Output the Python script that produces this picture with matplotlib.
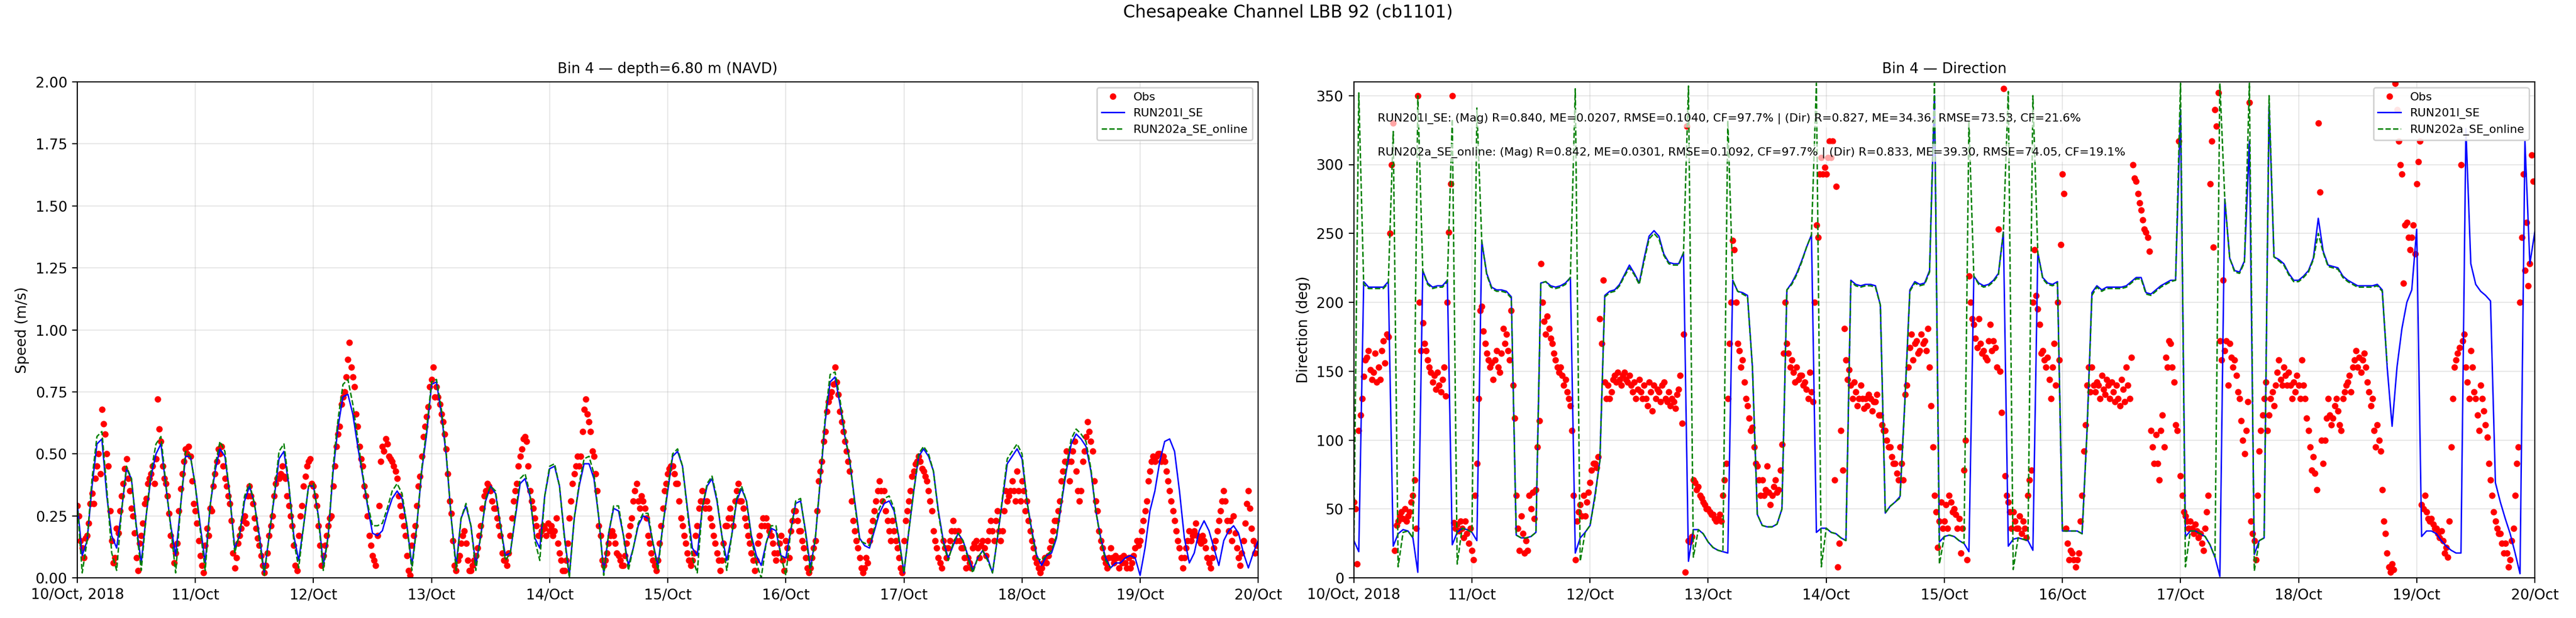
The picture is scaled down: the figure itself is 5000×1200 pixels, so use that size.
import numpy as np
import pandas as pd
import matplotlib
matplotlib.use('Agg')
import matplotlib.pyplot as plt

start = '2018-10-10 00:00'

# observed speed, every 20 min (m/s)
speed_obs = [
    0.29, 0.25, 0.15, 0.12, 0.08, 0.16, 0.17, 0.22, 0.30, 0.34, 0.30, 0.40,
    0.45, 0.50, 0.42, 0.68, 0.62, 0.58, 0.50, 0.45, 0.27, 0.15, 0.06, 0.08,
    0.20, 0.18, 0.27, 0.33, 0.38, 0.44, 0.48, 0.40, 0.35, 0.28, 0.25, 0.18,
    0.08, 0.03, 0.14, 0.17, 0.22, 0.30, 0.32, 0.38, 0.40, 0.42, 0.45, 0.38,
    0.48, 0.72, 0.60, 0.55, 0.45, 0.40, 0.38, 0.33, 0.26, 0.17, 0.13, 0.06,
    0.10, 0.14, 0.27, 0.36, 0.42, 0.47, 0.52, 0.50, 0.53, 0.49, 0.39, 0.30,
    0.27, 0.22, 0.15, 0.09, 0.05, 0.02, 0.13, 0.20, 0.17, 0.28, 0.27, 0.37,
    0.42, 0.47, 0.52, 0.50, 0.53, 0.45, 0.40, 0.37, 0.33, 0.30, 0.23, 0.10,
    0.04, 0.08, 0.14, 0.17, 0.20, 0.23, 0.25, 0.22, 0.33, 0.37, 0.33, 0.30,
    0.24, 0.20, 0.16, 0.13, 0.09, 0.05, 0.02, 0.05, 0.10, 0.17, 0.21, 0.25,
    0.33, 0.38, 0.40, 0.40, 0.42, 0.45, 0.41, 0.40, 0.33, 0.29, 0.25, 0.21,
    0.13, 0.05, 0.03, 0.17, 0.25, 0.29, 0.37, 0.41, 0.45, 0.47, 0.48, 0.38,
    0.37, 0.33, 0.29, 0.21, 0.13, 0.05, 0.09, 0.13, 0.17, 0.21, 0.24, 0.25,
    0.37, 0.45, 0.53, 0.58, 0.61, 0.70, 0.73, 0.75, 0.81, 0.88, 0.95, 0.85,
    0.81, 0.77, 0.66, 0.61, 0.53, 0.48, 0.45, 0.37, 0.33, 0.25, 0.17, 0.13,
    0.09, 0.07, 0.05, 0.17, 0.29, 0.47, 0.53, 0.51, 0.56, 0.54, 0.49, 0.48,
    0.47, 0.45, 0.43, 0.40, 0.33, 0.29, 0.25, 0.21, 0.17, 0.09, 0.03, 0.01,
    0.13, 0.17, 0.21, 0.29, 0.37, 0.41, 0.49, 0.57, 0.61, 0.65, 0.69, 0.77,
    0.80, 0.85, 0.73, 0.77, 0.73, 0.70, 0.66, 0.63, 0.58, 0.52, 0.42, 0.31,
    0.26, 0.15, 0.05, 0.03, 0.07, 0.09, 0.14, 0.17, 0.19, 0.14, 0.07, 0.03,
    0.03, 0.05, 0.07, 0.09, 0.12, 0.17, 0.21, 0.28, 0.33, 0.35, 0.38, 0.37,
    0.35, 0.31, 0.28, 0.28, 0.24, 0.21, 0.17, 0.10, 0.07, 0.07, 0.05, 0.10,
    0.17, 0.24, 0.31, 0.35, 0.38, 0.45, 0.49, 0.52, 0.56, 0.57, 0.55, 0.45,
    0.35, 0.31, 0.28, 0.24, 0.21, 0.17, 0.17, 0.19, 0.21, 0.20, 0.17, 0.22,
    0.19, 0.21, 0.17, 0.19, 0.24, 0.14, 0.10, 0.07, 0.03, 0.03, 0.07, 0.14,
    0.24, 0.31, 0.38, 0.42, 0.45, 0.49, 0.45, 0.49, 0.59, 0.68, 0.72, 0.66,
    0.63, 0.59, 0.51, 0.49, 0.42, 0.35, 0.21, 0.17, 0.07, 0.05, 0.07, 0.10,
    0.14, 0.17, 0.19, 0.17, 0.14, 0.10, 0.09, 0.07, 0.05, 0.05, 0.09, 0.14,
    0.17, 0.21, 0.24, 0.31, 0.35, 0.38, 0.31, 0.28, 0.33, 0.31, 0.28, 0.24,
    0.17, 0.14, 0.10, 0.07, 0.05, 0.03, 0.07, 0.14, 0.21, 0.28, 0.35, 0.38,
    0.42, 0.44, 0.45, 0.45, 0.42, 0.38, 0.38, 0.31, 0.24, 0.21, 0.17, 0.14,
    0.10, 0.07, 0.05, 0.07, 0.10, 0.17, 0.21, 0.28, 0.31, 0.35, 0.31, 0.28,
    0.31, 0.28, 0.24, 0.21, 0.17, 0.14, 0.10, 0.07, 0.03, 0.07, 0.14, 0.21,
    0.21, 0.24, 0.28, 0.24, 0.21, 0.31, 0.35, 0.38, 0.31, 0.31, 0.28, 0.24,
    0.21, 0.17, 0.14, 0.10, 0.07, 0.03, 0.07, 0.14, 0.17, 0.21, 0.24, 0.21,
    0.24, 0.21, 0.19, 0.17, 0.14, 0.10, 0.07, 0.10, 0.14, 0.17, 0.07, 0.03,
    0.15, 0.12, 0.08, 0.19, 0.23, 0.27, 0.27, 0.23, 0.19, 0.19, 0.15, 0.12,
    0.08, 0.04, 0.02, 0.04, 0.08, 0.12, 0.15, 0.27, 0.39, 0.43, 0.47, 0.55,
    0.59, 0.67, 0.71, 0.73, 0.75, 0.78, 0.85, 0.79, 0.74, 0.67, 0.63, 0.59,
    0.55, 0.51, 0.47, 0.43, 0.31, 0.23, 0.19, 0.15, 0.12, 0.08, 0.04, 0.02,
    0.04, 0.08, 0.06, 0.15, 0.19, 0.23, 0.27, 0.31, 0.35, 0.39, 0.35, 0.31,
    0.35, 0.27, 0.23, 0.19, 0.15, 0.23, 0.19, 0.15, 0.12, 0.08, 0.04, 0.02,
    0.15, 0.23, 0.27, 0.31, 0.35, 0.41, 0.43, 0.46, 0.47, 0.49, 0.47, 0.44,
    0.43, 0.41, 0.39, 0.35, 0.31, 0.27, 0.19, 0.15, 0.12, 0.08, 0.06, 0.04,
    0.15, 0.12, 0.08, 0.12, 0.15, 0.19, 0.23, 0.19, 0.15, 0.19, 0.15, 0.12,
    0.12, 0.08, 0.04, 0.08, 0.06, 0.04, 0.12, 0.14, 0.15, 0.12, 0.08, 0.13,
    0.15, 0.12, 0.09, 0.15, 0.19, 0.23, 0.19, 0.15, 0.23, 0.27, 0.19, 0.15,
    0.19, 0.27, 0.35, 0.31, 0.33, 0.35, 0.39, 0.35, 0.31, 0.43, 0.35, 0.31,
    0.39, 0.35, 0.27, 0.31, 0.23, 0.19, 0.15, 0.12, 0.08, 0.06, 0.04, 0.02,
    0.04, 0.06, 0.08, 0.06, 0.09, 0.12, 0.15, 0.19, 0.23, 0.23, 0.27, 0.31,
    0.39, 0.43, 0.47, 0.51, 0.47, 0.39, 0.47, 0.51, 0.55, 0.43, 0.35, 0.31,
    0.35, 0.47, 0.51, 0.57, 0.63, 0.59, 0.55, 0.51, 0.39, 0.31, 0.27, 0.19,
    0.15, 0.12, 0.08, 0.06, 0.04, 0.08, 0.12, 0.08, 0.06, 0.09, 0.08, 0.04,
    0.08, 0.06, 0.09, 0.06, 0.04, 0.08, 0.04, 0.06, 0.09, 0.12, 0.15, 0.13,
    0.15, 0.19, 0.23, 0.27, 0.31, 0.39, 0.43, 0.47, 0.49, 0.47, 0.49, 0.50,
    0.50, 0.47, 0.49, 0.47, 0.43, 0.39, 0.35, 0.31, 0.27, 0.23, 0.19, 0.15,
    0.12, 0.08, 0.04, 0.08, 0.12, 0.15, 0.19, 0.15, 0.17, 0.19, 0.22, 0.17,
    0.15, 0.14, 0.17, 0.15, 0.12, 0.08, 0.06, 0.04, 0.08, 0.12, 0.15, 0.19,
    0.23, 0.27, 0.31, 0.35, 0.31, 0.23, 0.19, 0.23, 0.15, 0.25, 0.18, 0.12,
    0.08, 0.05, 0.10, 0.15, 0.22, 0.30, 0.35, 0.28, 0.20, 0.15, 0.10, 0.13,
]

# observed direction, every 20 min (deg)
dir_obs = [
    55, 50, 10, 107, 118, 130, 146, 158, 160, 165, 151, 144,
    149, 163, 142, 153, 144, 165, 172, 156, 177, 175, 250, 300,
    330, 20, 38, 41, 45, 48, 43, 50, 41, 45, 48, 55,
    60, 71, 36, 350, 200, 165, 185, 170, 165, 158, 153, 149,
    142, 147, 137, 149, 140, 135, 144, 153, 132, 200, 251, 286,
    350, 40, 36, 39, 34, 41, 36, 29, 41, 32, 25, 36,
    20, 13, 60, 83, 130, 194, 197, 179, 170, 163, 158, 153,
    156, 144, 158, 165, 153, 149, 163, 181, 170, 177, 165, 158,
    194, 140, 116, 60, 36, 20, 45, 32, 18, 27, 20, 60,
    50, 62, 43, 64, 95, 114, 228, 200, 186, 177, 190, 181,
    174, 170, 163, 158, 153, 149, 153, 147, 140, 144, 135, 130,
    125, 107, 60, 13, 41, 48, 53, 45, 60, 45, 55, 62,
    69, 78, 83, 83, 80, 88, 188, 170, 216, 142, 130, 140,
    130, 135, 144, 147, 142, 149, 144, 140, 147, 149, 144, 142,
    147, 140, 135, 142, 130, 137, 144, 135, 130, 140, 130, 125,
    142, 135, 121, 140, 130, 137, 135, 128, 140, 142, 130, 128,
    135, 125, 130, 128, 123, 133, 137, 147, 112, 177, 4, 328,
    27, 26, 30, 71, 69, 64, 66, 60, 58, 55, 53, 50,
    50, 48, 46, 46, 43, 41, 43, 46, 41, 60, 71, 83,
    130, 170, 200, 245, 238, 200, 170, 165, 153, 158, 142, 130,
    125, 116, 107, 109, 95, 83, 81, 71, 60, 71, 60, 64,
    81, 62, 53, 60, 66, 71, 62, 64, 78, 97, 163, 200,
    170, 163, 153, 158, 149, 142, 153, 144, 147, 147, 140, 142,
    137, 130, 149, 135, 128, 200, 256, 247, 293, 305, 293, 298,
    293, 305, 317, 305, 317, 71, 284, 8, 25, 107, 78, 181,
    158, 144, 151, 140, 130, 142, 135, 125, 130, 140, 130, 123,
    130, 125, 133, 130, 121, 128, 128, 133, 118, 118, 111, 107,
    107, 100, 95, 95, 88, 83, 83, 76, 71, 95, 83, 71,
    133, 140, 153, 167, 177, 158, 170, 172, 163, 165, 177, 170,
    172, 165, 181, 153, 125, 95, 60, 48, 22, 41, 55, 36,
    41, 53, 36, 60, 55, 48, 50, 46, 36, 43, 18, 36,
    78, 100, 13, 219, 200, 188, 184, 174, 167, 188, 170, 163,
    165, 160, 158, 172, 184, 165, 172, 167, 153, 253, 150, 120,
    355, 74, 60, 55, 48, 36, 48, 41, 36, 36, 45, 32,
    41, 36, 29, 60, 71, 78, 200, 238, 205, 195, 184, 163,
    165, 158, 153, 160, 144, 130, 153, 170, 140, 200, 158, 242,
    293, 279, 36, 25, 13, 20, 18, 13, 8, 13, 18, 41,
    60, 92, 111, 140, 153, 135, 153, 140, 135, 142, 140, 130,
    147, 137, 133, 144, 140, 130, 142, 135, 128, 140, 130, 125,
    144, 137, 128, 153, 140, 130, 160, 300, 290, 288, 279, 272,
    267, 260, 253, 251, 247, 237, 107, 95, 83, 104, 83, 71,
    107, 118, 95, 160, 153, 172, 170, 153, 142, 111, 107, 317,
    74, 60, 48, 45, 41, 36, 41, 36, 32, 39, 34, 29,
    32, 25, 20, 36, 48, 60, 286, 317, 240, 340, 328, 352,
    172, 158, 216, 165, 172, 140, 170, 160, 153, 158, 147, 135,
    130, 114, 100, 90, 107, 128, 345, 41, 32, 27, 13, 60,
    92, 107, 118, 130, 142, 107, 118, 130, 135, 125, 140, 149,
    158, 144, 140, 153, 147, 140, 149, 140, 130, 142, 135, 147,
    140, 130, 158, 140, 130, 116, 107, 95, 78, 88, 76, 64,
    330, 280, 100, 83, 100, 116, 130, 118, 111, 116, 125, 130,
    121, 111, 107, 130, 135, 140, 142, 147, 135, 153, 158, 165,
    153, 160, 149, 158, 163, 153, 142, 135, 125, 130, 107, 95,
    111, 100, 92, 64, 41, 32, 18, 8, 4, 10, 6, 359,
    340, 317, 300, 293, 214, 256, 258, 247, 238, 247, 256, 235,
    286, 302, 317, 53, 50, 60, 48, 43, 41, 43, 39, 36,
    36, 32, 29, 34, 27, 18, 22, 15, 41, 95, 130, 153,
    158, 163, 167, 300, 172, 177, 153, 142, 130, 165, 153, 135,
    130, 118, 107, 140, 130, 121, 111, 102, 83, 71, 60, 48,
    41, 36, 32, 32, 25, 18, 25, 18, 8, 13, 27, 36,
    60, 83, 95, 200, 247, 293, 223, 258, 212, 228, 307, 288,
]

# model speed, hourly (m/s)
speed_run201 = [
    0.30, 0.09, 0.15, 0.37, 0.54, 0.56, 0.33, 0.17, 0.12, 0.27,
    0.44, 0.40, 0.21, 0.06, 0.25, 0.41, 0.50, 0.54, 0.37, 0.21,
    0.09, 0.29, 0.49, 0.49, 0.37, 0.21, 0.06, 0.29, 0.43, 0.52,
    0.49, 0.33, 0.12, 0.17, 0.31, 0.37, 0.30, 0.17, 0.02, 0.17,
    0.32, 0.48, 0.51, 0.37, 0.17, 0.07, 0.21, 0.37, 0.37, 0.25,
    0.05, 0.17, 0.43, 0.61, 0.73, 0.74, 0.66, 0.53, 0.41, 0.29,
    0.18, 0.17, 0.19, 0.26, 0.32, 0.35, 0.32, 0.21, 0.05, 0.21,
    0.43, 0.58, 0.78, 0.79, 0.66, 0.49, 0.24, 0.05, 0.24, 0.29,
    0.21, 0.05, 0.17, 0.31, 0.37, 0.34, 0.21, 0.09, 0.10, 0.24,
    0.38, 0.40, 0.33, 0.16, 0.12, 0.33, 0.44, 0.45, 0.37, 0.17,
    0.01, 0.24, 0.37, 0.46, 0.46, 0.40, 0.24, 0.02, 0.18, 0.28,
    0.27, 0.17, 0.05, 0.12, 0.21, 0.25, 0.24, 0.14, 0.05, 0.21,
    0.35, 0.49, 0.51, 0.45, 0.28, 0.12, 0.09, 0.28, 0.37, 0.40,
    0.31, 0.17, 0.07, 0.17, 0.31, 0.36, 0.31, 0.17, 0.09, 0.05,
    0.14, 0.20, 0.19, 0.09, 0.08, 0.19, 0.30, 0.31, 0.19, 0.04,
    0.16, 0.39, 0.63, 0.79, 0.81, 0.70, 0.57, 0.47, 0.31, 0.16,
    0.13, 0.12, 0.19, 0.26, 0.30, 0.31, 0.27, 0.16, 0.02, 0.19,
    0.35, 0.49, 0.52, 0.49, 0.43, 0.27, 0.15, 0.08, 0.13, 0.18,
    0.15, 0.09, 0.03, 0.08, 0.11, 0.08, 0.02, 0.16, 0.31, 0.46,
    0.49, 0.52, 0.48, 0.31, 0.19, 0.09, 0.05, 0.09, 0.10, 0.16,
    0.30, 0.43, 0.54, 0.58, 0.56, 0.53, 0.43, 0.27, 0.16, 0.08,
    0.04, 0.06, 0.06, 0.08, 0.09, 0.08, 0.01, 0.12, 0.27, 0.35,
    0.47, 0.55, 0.56, 0.51, 0.35, 0.16, 0.06, 0.10, 0.19, 0.23,
    0.19, 0.12, 0.05, 0.15, 0.19, 0.21, 0.18, 0.10, 0.04, 0.10,
    0.15,
]

speed_run202 = [
    0.30, 0.02, 0.15, 0.40, 0.57, 0.59, 0.36, 0.10, 0.03, 0.27,
    0.45, 0.40, 0.20, 0.03, 0.25, 0.43, 0.54, 0.57, 0.38, 0.20,
    0.02, 0.29, 0.51, 0.49, 0.37, 0.19, 0.03, 0.29, 0.45, 0.55,
    0.51, 0.33, 0.10, 0.18, 0.33, 0.38, 0.30, 0.15, 0.01, 0.17,
    0.33, 0.51, 0.54, 0.38, 0.15, 0.04, 0.21, 0.37, 0.38, 0.24,
    0.03, 0.17, 0.45, 0.64, 0.78, 0.80, 0.70, 0.56, 0.42, 0.30,
    0.21, 0.21, 0.22, 0.28, 0.35, 0.38, 0.34, 0.21, 0.03, 0.21,
    0.44, 0.60, 0.79, 0.80, 0.68, 0.50, 0.24, 0.03, 0.24, 0.30,
    0.21, 0.03, 0.17, 0.32, 0.37, 0.35, 0.21, 0.07, 0.10, 0.25,
    0.40, 0.42, 0.34, 0.15, 0.07, 0.33, 0.45, 0.46, 0.37, 0.16,
    0.00, 0.24, 0.38, 0.48, 0.49, 0.42, 0.24, 0.01, 0.18, 0.29,
    0.29, 0.17, 0.03, 0.12, 0.22, 0.26, 0.26, 0.14, 0.03, 0.21,
    0.36, 0.50, 0.52, 0.45, 0.27, 0.08, 0.02, 0.28, 0.38, 0.41,
    0.32, 0.17, 0.03, 0.17, 0.32, 0.37, 0.31, 0.16, 0.06, 0.00,
    0.14, 0.21, 0.21, 0.09, 0.01, 0.19, 0.31, 0.32, 0.18, 0.02,
    0.16, 0.40, 0.65, 0.82, 0.83, 0.72, 0.58, 0.47, 0.30, 0.15,
    0.14, 0.13, 0.20, 0.28, 0.32, 0.33, 0.28, 0.15, 0.02, 0.19,
    0.35, 0.50, 0.53, 0.50, 0.43, 0.26, 0.14, 0.07, 0.14, 0.18,
    0.15, 0.08, 0.02, 0.08, 0.11, 0.07, 0.02, 0.16, 0.32, 0.48,
    0.51, 0.54, 0.50, 0.31, 0.18, 0.08, 0.07, 0.09, 0.11, 0.17,
    0.31, 0.45, 0.56, 0.60, 0.58, 0.55, 0.44, 0.27, 0.15, 0.07,
    0.04,
]

# model direction, hourly (deg)
dir_run201 = [
    27, 19, 215, 211, 211, 211, 211, 215, 23, 32,
    35, 34, 29, 4, 223, 214, 211, 212, 212, 216,
    24, 33, 36, 35, 33, 27, 244, 221, 211, 209,
    209, 208, 204, 31, 29, 29, 30, 33, 214, 215,
    212, 211, 212, 214, 218, 18, 29, 33, 38, 60,
    85, 205, 208, 209, 213, 220, 227, 221, 214, 232,
    248, 252, 248, 235, 229, 228, 228, 236, 12, 35,
    35, 32, 26, 22, 20, 19, 18, 216, 208, 207,
    205, 153, 46, 38, 37, 37, 39, 50, 209, 214,
    221, 230, 240, 249, 33, 36, 36, 33, 32, 29,
    27, 216, 213, 212, 213, 213, 212, 198, 47, 52,
    55, 59, 130, 209, 215, 213, 214, 223, 350, 26,
    30, 31, 30, 27, 25, 19, 219, 214, 212, 213,
    216, 221, 251, 23, 28, 29, 28, 27, 20, 236,
    218, 214, 213, 215, 34, 34, 34, 34, 32, 107,
    207, 212, 209, 211, 211, 211, 211, 212, 215, 218,
    218, 207, 206, 209, 212, 214, 216, 216, 340, 30,
    34, 34, 32, 30, 24, 15, 1, 275, 232, 223,
    222, 230, 317, 17, 27, 29, 343, 233, 231, 228,
    221, 216, 216, 219, 223, 232, 261, 237, 227, 226,
    225, 219, 216, 214, 212, 212, 212, 212, 213, 209,
    153, 110, 153, 181, 200, 209, 253, 30, 34, 34,
    32, 27, 23, 20, 18, 18, 326, 228, 213, 208,
    205, 201, 69, 55, 43, 32, 18, 3, 317, 228,
    251,
]

dir_run202 = [
    27, 352, 213, 210, 210, 210, 210, 214, 324, 8,
    33, 34, 29, 350, 223, 213, 210, 211, 211, 215,
    333, 10, 36, 35, 33, 341, 244, 220, 210, 208,
    208, 207, 203, 31, 29, 29, 30, 33, 214, 215,
    211, 210, 211, 213, 218, 355, 12, 33, 38, 58,
    85, 204, 207, 208, 212, 219, 225, 220, 213, 230,
    246, 250, 246, 234, 228, 227, 227, 236, 357, 15,
    35, 32, 26, 22, 20, 19, 332, 216, 208, 206,
    204, 153, 46, 38, 37, 37, 39, 50, 209, 213,
    220, 229, 240, 249, 359, 8, 36, 33, 32, 29,
    27, 215, 212, 211, 212, 212, 211, 198, 47, 52,
    55, 58, 128, 208, 214, 212, 213, 222, 359, 10,
    30, 31, 30, 27, 25, 331, 219, 213, 211, 212,
    215, 220, 251, 353, 6, 29, 28, 27, 350, 236,
    217, 213, 212, 214, 34, 34, 34, 34, 32, 105,
    205, 211, 208, 210, 210, 210, 210, 211, 214, 217,
    217, 206, 205, 208, 211, 213, 215, 216, 359, 8,
    34, 34, 32, 30, 24, 15, 359, 275, 232, 222,
    221, 229, 359, 5, 27, 29, 350, 233, 230, 227,
    220, 215, 215, 218, 222, 231, 250, 236, 226, 225,
    224, 218, 215, 213, 211, 211, 211, 211, 212, 208,
    155,
]

stats_201 = ('RUN201l_SE: (Mag) R=0.840, ME=0.0207, RMSE=0.1040, CF=97.7% | '
             '(Dir) R=0.827, ME=34.36, RMSE=73.53, CF=21.6%')
stats_202 = ('RUN202a_SE_online: (Mag) R=0.842, ME=0.0301, RMSE=0.1092, CF=97.7% | '
             '(Dir) R=0.833, ME=39.30, RMSE=74.05, CF=19.1%')

t_spd_obs = pd.date_range(start, periods=len(speed_obs), freq='20min')
t_dir_obs = pd.date_range(start, periods=len(dir_obs), freq='20min')
t_spd_201 = pd.date_range(start, periods=len(speed_run201), freq='h')
t_spd_202 = pd.date_range(start, periods=len(speed_run202), freq='h')
t_dir_201 = pd.date_range(start, periods=len(dir_run201), freq='h')
t_dir_202 = pd.date_range(start, periods=len(dir_run202), freq='h')

days = pd.date_range('2018-10-10', '2018-10-20', freq='D')
day_labels = [d.strftime('%d/%b') for d in days]
day_labels[0] = day_labels[0] + ', 2018'

fig, (ax1, ax2) = plt.subplots(1, 2, figsize=(25, 6))
fig.subplots_adjust(left=0.03, right=0.984, bottom=0.065, top=0.8675, wspace=0.081)
fig.suptitle('Chesapeake Channel LBB 92 (cb1101)', fontsize=12, y=0.993, va='top')

# speed
ax1.plot(t_spd_obs, speed_obs, 'o', color='red', ms=3.5, label='Obs')
ax1.plot(t_spd_201, speed_run201, '-', color='blue', lw=1, label='RUN201l_SE')
ax1.plot(t_spd_202, speed_run202, '--', color='green', lw=1, label='RUN202a_SE_online')
ax1.set_ylim(0, 2.0)
ax1.set_yticks(np.arange(0, 2.01, 0.25))
ax1.set_ylabel('Speed (m/s)')
ax1.set_title('Bin 4 — depth=6.80 m (NAVD)', fontsize=10)
ax1.legend(loc='upper right', fontsize=8, framealpha=0.9)

# direction
ax2.plot(t_dir_obs, dir_obs, 'o', color='red', ms=3.5, label='Obs')
ax2.plot(t_dir_201, dir_run201, '-', color='blue', lw=1, label='RUN201l_SE')
ax2.plot(t_dir_202, dir_run202, '--', color='green', lw=1, label='RUN202a_SE_online')
ax2.set_ylim(0, 360)
ax2.set_yticks(np.arange(0, 351, 50))
ax2.set_ylabel('Direction (deg)')
ax2.set_title('Bin 4 — Direction', fontsize=10)
ax2.legend(loc='upper right', fontsize=8, framealpha=0.9)

box = dict(boxstyle='round,pad=0.3', facecolor='white', edgecolor='none', alpha=0.65)
ax2.text(0.02, 0.926, stats_201, transform=ax2.transAxes, fontsize=8,
         va='center', ha='left', bbox=box, zorder=5)
ax2.text(0.02, 0.857, stats_202, transform=ax2.transAxes, fontsize=8,
         va='center', ha='left', bbox=box, zorder=5)

for ax in (ax1, ax2):
    ax.set_xlim(days[0], days[-1])
    ax.set_xticks(days)
    ax.set_xticklabels(day_labels)
    ax.grid(True, alpha=0.3)

fig.savefig('out.png', dpi=200)
